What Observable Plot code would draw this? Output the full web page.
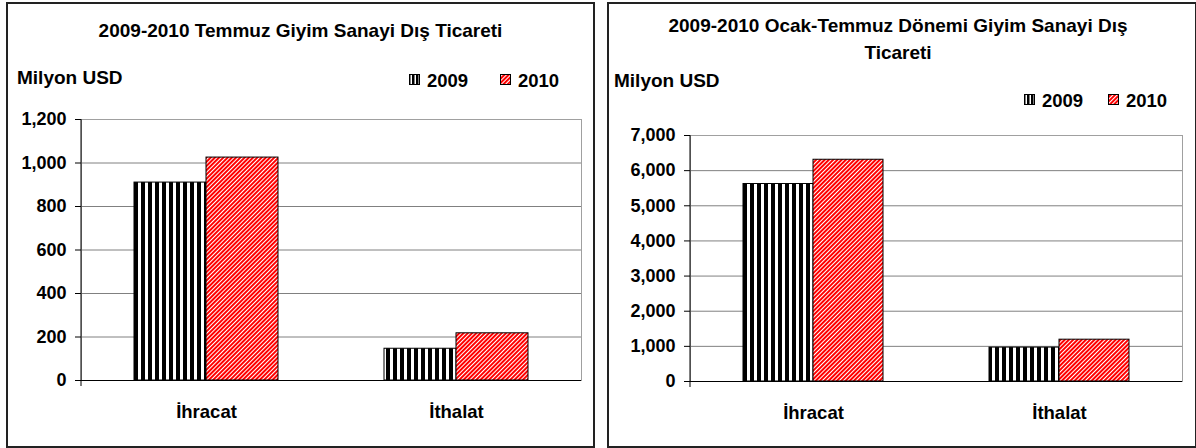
<!DOCTYPE html>
<html>
<head>
<meta charset="utf-8">
<script src="https://cdn.jsdelivr.net/npm/d3@7"></script>
<script src="https://cdn.jsdelivr.net/npm/@observablehq/plot@0.6"></script>
<style>
  html, body { margin: 0; padding: 0; background: #fff; }
  body { width: 1196px; height: 448px; position: relative; overflow: hidden;
         font-family: "Liberation Sans", Arial, sans-serif; font-weight: bold; color: #000; }
  .panel { position: absolute; border: 2px solid #222; box-sizing: border-box; background: #fff; }
  .abs { position: absolute; white-space: nowrap; }
  .title { font-size: 19px; text-align: center; }
  .unit { font-size: 19px; line-height: 22px; }
  .plot { position: absolute; }
</style>
</head>
<body>
<svg width="0" height="0" style="position:absolute">
  <defs>
    <pattern id="vstripes" patternUnits="userSpaceOnUse" width="7" height="7">
      <rect width="7" height="7" fill="#fff"/>
      <rect x="0" width="4" height="7" fill="#000"/>
    </pattern>
    <pattern id="vstripesSmall" patternUnits="userSpaceOnUse" width="4" height="4">
      <rect width="4" height="4" fill="#fff"/>
      <rect x="0" width="2.5" height="4" fill="#000"/>
    </pattern>
    <pattern id="dstripes" patternUnits="userSpaceOnUse" width="3" height="6" patternTransform="rotate(45)">
      <rect width="3" height="6" fill="#fff"/>
      <rect x="0" width="2" height="6" fill="#ff0000"/>
    </pattern>
  </defs>
</svg>

<div class="panel" style="left:6px;top:2px;width:589px;height:446px;"></div>
<div class="panel" style="left:607px;top:2px;width:590px;height:446px;"></div>

<div class="abs title" style="left:6px;width:589px;top:20px;line-height:22px;">2009-2010 Temmuz Giyim Sanayi Dış Ticareti</div>
<div class="abs unit" style="left:17px;top:67px;">Milyon USD</div>

<div class="abs title" style="left:607px;width:582px;top:13px;line-height:26.5px;">2009-2010 Ocak-Temmuz Dönemi Giyim Sanayi Dış<br>Ticareti</div>
<div class="abs unit" style="left:614px;top:70px;">Milyon USD</div>

<div id="left" class="plot" style="left:8px;top:100px;"></div>
<div id="right" class="plot" style="left:610px;top:110px;"></div>
<div id="legL" class="abs" style="left:408px;top:68px;"></div>
<div id="legR" class="abs" style="left:1023px;top:88px;"></div>

<script>
// ---- data ----
const categories = ["İhracat", "İthalat"];
const years = ["2009", "2010"];
const julyValues2009 = [910, 146];
const julyValues2010 = [1025, 217];
const ytdValues2009 = [5620, 965];
const ytdValues2010 = [6310, 1190];
const leftTicks = [0, 200, 400, 600, 800, 1000, 1200];
const rightTicks = [0, 1000, 2000, 3000, 4000, 5000, 6000, 7000];

const fmt = d3.format(",");

function rows(vals) { return categories.map((c, i) => ({cat: c, v: vals[i]})); }

function chart({v2009, v2010, ticks, width, height, mt, mb, ml, mr, padInner, half}) {
  const axisLine = (index, scales, values, dims) => {
    const g = d3.create("svg:g");
    g.append("line")
      .attr("x1", dims.marginLeft).attr("x2", dims.marginLeft)
      .attr("y1", dims.marginTop).attr("y2", dims.height - dims.marginBottom + 6)
      .attr("stroke", "#000");
    return g.node();
  };
  return Plot.plot({
    width, height,
    marginTop: mt, marginBottom: mb, marginLeft: ml, marginRight: mr,
    style: {fontFamily: "'Liberation Sans', Arial, sans-serif", fontWeight: "bold", background: "transparent"},
    x: {domain: categories, paddingInner: padInner, paddingOuter: padInner / 2, label: null},
    y: {domain: [ticks[0], ticks[ticks.length - 1]], label: null},
    marks: [
      Plot.gridY(ticks, {stroke: "#808080", strokeOpacity: 1}),
      Plot.frame({stroke: "#a0a0a0"}),
      Plot.barY(rows(v2009), {x: "cat", y: "v", fill: "url(#vstripes)", stroke: "#000", strokeWidth: 1, insetLeft: 0, insetRight: half}),
      Plot.barY(rows(v2010), {x: "cat", y: "v", fill: "url(#dstripes)", stroke: "#000", strokeWidth: 1, insetLeft: half, insetRight: 0}),
      Plot.ruleY([0], {stroke: "#000"}),
      axisLine,
      Plot.axisY({ticks, tickFormat: fmt, tickSize: 6, tickPadding: 9, fontSize: 18, label: null, stroke: "#000"}),
      Plot.axisX({tickSize: 0, tickPadding: 24, fontSize: 18.5, label: null})
    ]
  });
}

document.getElementById("left").append(chart({
  v2009: julyValues2009, v2010: julyValues2010, ticks: leftTicks,
  width: 580, height: 330, mt: 19, mb: 50, ml: 73, mr: 7, padInner: 0.424, half: 72
}));
document.getElementById("right").append(chart({
  v2009: ytdValues2009, v2010: ytdValues2010, ticks: rightTicks,
  width: 580, height: 330, mt: 25, mb: 59, ml: 80, mr: 8, padInner: 0.431, half: 70
}));

function legend(el, gap) {
  const fills = ["url(#vstripesSmall)", "url(#dstripes)"];
  const svg = d3.select(el).append("svg").attr("width", 180).attr("height", 24)
    .style("font-family", "'Liberation Sans', Arial, sans-serif").style("font-weight", "bold").style("font-size", "18.5px");
  years.forEach((y, i) => {
    const x = i * gap;
    svg.append("rect").attr("x", x + 1.5).attr("y", 6.5).attr("width", 10).attr("height", 10)
      .attr("fill", fills[i]).attr("stroke", "#000");
    svg.append("text").attr("x", x + 19).attr("y", 18.5).text(y);
  });
}
legend(document.getElementById("legL"), 91);
legend(document.getElementById("legR"), 84);
</script>
</body>
</html>
